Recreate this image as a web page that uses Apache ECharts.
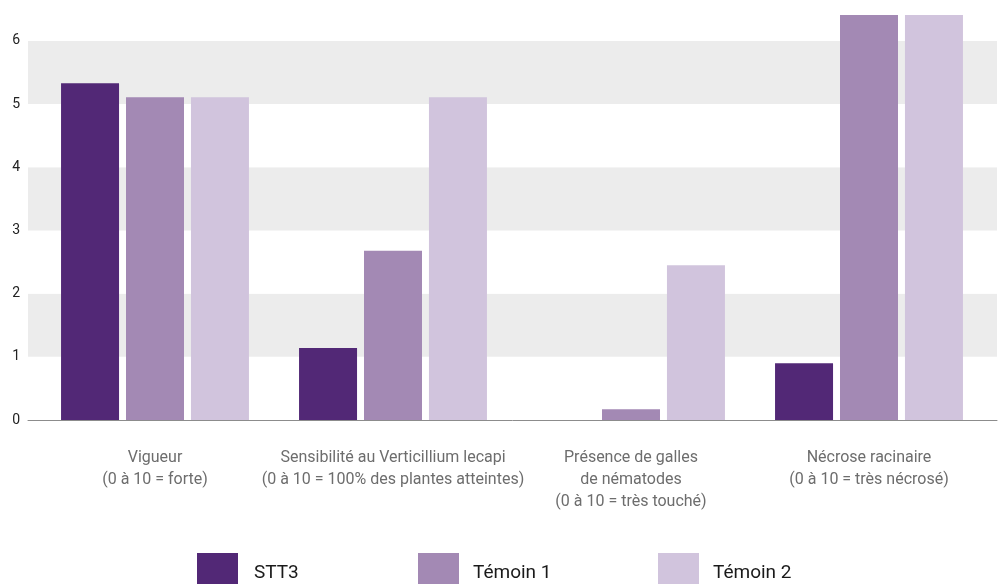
<!DOCTYPE html>
<html><head><meta charset="utf-8">
<script src="https://cdn.jsdelivr.net/npm/echarts@6/dist/echarts.min.js"></script>
<style>html,body{margin:0;padding:0;background:#fff}#c{width:1004px;height:584px}</style>
</head><body><div id="c"></div>
<script>
const categories = [
  "Vigueur\n(0 à 10 = forte)",
  "Sensibilité au Verticillium lecapi\n(0 à 10 = 100% des plantes atteintes)",
  "Présence de galles\nde nématodes\n(0 à 10 = très touché)",
  "Nécrose racinaire\n(0 à 10 = très nécrosé)"
];
const seriesNames = ["STT3", "Témoin 1", "Témoin 2"];
const stt3 = [5.33, 1.14, 0, 0.90];
const temoin1 = [5.11, 2.68, 0.17, 6.41];
const temoin2 = [5.11, 5.11, 2.45, 6.41];
const yTicks = [0, 1, 2, 3, 4, 5, 6];
const colors = ["#522876", "#a389b4", "#d1c4dd"];
const FONT = "'Roboto',sans-serif";

const chart = echarts.init(document.getElementById('c'), null, {renderer: 'canvas'});
const yMax = 6.41;
const legendLefts = [197, 418, 658];
chart.setOption({
  animation: false,
  textStyle: {fontFamily: FONT},
  grid: [
    {left: 28, right: 7, top: 15, bottom: 164},
    {left: 36, right: 16, top: 15, bottom: 164}
  ],
  legend: seriesNames.map((n, i) => ({
    data: [n],
    top: 553,
    left: legendLefts[i],
    padding: 0,
    itemWidth: 41,
    itemHeight: 40,
    icon: 'rect',
    textStyle: {fontFamily: FONT, fontSize: 19, color: '#1a1a1a', padding: [4, 0, 0, i === 0 ? 11 : 9]}
  })),
  xAxis: [
    {type: 'value', gridIndex: 0, min: 0, max: 1, show: true,
     axisLine: {show: true, lineStyle: {color: '#8c8c8c', width: 1}},
     axisTick: {show: false}, axisLabel: {show: false}, splitLine: {show: false}},
    {type: 'category', gridIndex: 1, data: categories,
     axisLine: {show: false}, axisTick: {show: false},
     axisLabel: {interval: 0, margin: 27, fontFamily: FONT, fontSize: 16, lineHeight: 22, color: '#6d6d6d'}}
  ],
  yAxis: [
    {type: 'value', gridIndex: 0, min: 0, max: yMax, interval: 1,
     axisLine: {show: false}, axisTick: {show: false},
     axisLabel: {margin: 8, fontFamily: FONT, fontSize: 14, color: '#222',
       formatter: v => (yTicks.indexOf(v) >= 0 ? String(v) : '')},
     splitLine: {show: false},
     splitArea: {show: true, areaStyle: {color: ['#ffffff', '#ececec']}}},
    {type: 'value', gridIndex: 1, min: 0, max: yMax, show: false, splitLine: {show: false}}
  ],
  series: [
    {name: seriesNames[0], type: 'bar', xAxisIndex: 1, yAxisIndex: 1, data: stt3, barWidth: 58, barGap: '12%', itemStyle: {color: colors[0]}},
    {name: seriesNames[1], type: 'bar', xAxisIndex: 1, yAxisIndex: 1, data: temoin1, barWidth: 58, barGap: '12%', itemStyle: {color: colors[1]}},
    {name: seriesNames[2], type: 'bar', xAxisIndex: 1, yAxisIndex: 1, data: temoin2, barWidth: 58, barGap: '12%', itemStyle: {color: colors[2]}}
  ]
});
</script></body></html>
